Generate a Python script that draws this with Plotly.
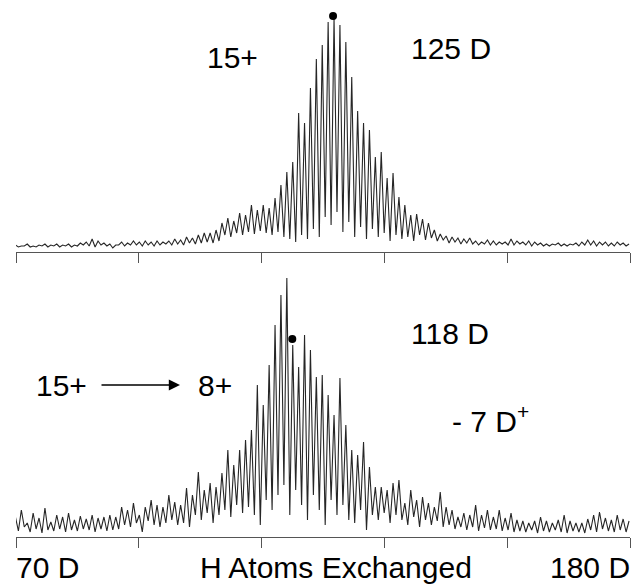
import plotly.graph_objects as go

# ---------------- data ----------------
# x axis: 70 D ... 180 D, ticks every 22 D
tick_vals = [70, 92, 114, 136, 158, 180]
left_label = "70 D"
right_label = "180 D"
axis_title = "H Atoms Exchanged"

# spectrum sampling grid (peak positions, D units)
first_peak = 69.9
peak_step = 1.057

# top spectrum (15+): peak apex heights and the troughs between them
top_peaks = [2, 1, 3, 1, 2, 3, 2, 3, 2, 3, 2, 4, 5, 8, 6,
             4, 3, 2, 5, 4, 6, 5, 6, 5, 6, 5, 6, 8, 7, 10, 9, 12, 14, 14, 17,
             24, 29, 26, 34, 32, 42, 37, 42, 39, 49, 62, 75, 85,
             134, 124, 159, 188, 202, 225, 229, 222, 205, 170, 136, 124, 117,
             90, 95, 69, 74, 50, 42, 32, 33, 28, 24, 17, 13,
             11, 10, 9, 8, 9, 6, 5, 7, 6, 5, 5, 8, 6, 5, 6, 5, 4, 3, 3, 4, 3, 3,
             4, 5, 7, 6, 5, 5, 4, 5, 4, 3]
top_troughs = [0, 1, 0, 0, 1, 0, 1, 0, 1, 0, 1, 2, 1,
               0,
               2, 1, -1, 2, 1, 2, 2, 1, 2, 1, 2, 3, 2,
               3, 2, 4, 3, 4, 5, 4, 6,
               12, 10, 14, 12, 15, 13, 16, 14, 12, 15, 10, 8,
               5, 12, 8, 18, 10, 30, 22, 35, 15, 25, 10, 20, 8, 18,
               10, 14, 6, 12, 8, 10, 6, 12, 7, 9, 6, 7,
               4, 5, 3, 4, 3, 2, 3, 2, 2, 3, 2, 2, 3, 2, 1, 2, 1, 1, 2, 1, 1, 2,
               1, 2, 2, 1, 2, 1, 1, 2, 1]

# bottom spectrum (15+ -> 8+)
bot_peaks = [18, 25, 12, 22, 17, 27, 13, 20, 18, 22, 15, 19, 16, 20, 17, 18, 20, 18,
             28, 25, 32, 20, 28, 35, 30, 28, 40, 33, 30, 47, 40, 63, 45, 52, 48, 62,
             85, 70, 85, 95, 105, 150, 130, 170, 210, 240, 257,
             190, 168, 200, 185, 158, 160, 140, 120, 157, 110, 85, 80, 93, 68,
             48, 48, 45, 52, 55, 32, 45, 35, 38, 32, 28, 43,
             28, 25, 18, 22, 20, 30, 20, 25, 18, 25, 17, 22, 15, 14, 12, 14, 18,
             14, 12, 15, 20, 14, 12, 12, 16, 20, 23, 17, 15, 20, 16, 14]
bot_troughs = [4, 8, 3, 6, 2, 5, 4, 6, 3, 5, 4, 6, 5, 3, 6, 4, 5, 6,
               10, 8, 12, 3, 14, 10, 8, 12, 15, 10, 12, 8, 20,
               15, 22, 12, 20, 25, 18, 30, 22, 28, 20,
               10, 35, 25, 40, 50, 20, 45, 30, 15, 40, 25, 10, 35, 20, 30, 15,
               12, 25, 5, 20, 15, 22, 12, 20, 15, 10, 18, 8, 15, 10, 14, 8,
               10, 6, 8, 5, 8, 4, 7, 5, 6, 4, 5, 3, 4, 3, 5, 2, 4, 3, 5, 3, 2,
               4, 3, 2, 5, 3, 6, 4, 3, 5, 3]

# markers (most abundant peak), D units / intensity
top_dot = (126.8, 231)
bot_dot = (119.5, 196)

top_labels = ["15+", "125 D"]
bot_labels = ["15+", "8+", "118 D", "- 7 D<sup>+</sup>"]

# ---------------- build ----------------
W, H = 641, 584
FONT = "Liberation Sans, Arial, sans-serif"
LINE = "#262626"


def interleave(peaks, troughs):
    xs, ys = [], []
    for k, p in enumerate(peaks):
        xs.append(first_peak + k * peak_step)
        ys.append(p)
        if k < len(troughs):
            xs.append(first_peak + (k + 0.5) * peak_step)
            ys.append(troughs[k])
    return xs, ys


tx, ty = interleave(top_peaks, top_troughs)
bx, by = interleave(bot_peaks, bot_troughs)

fig = go.Figure()
fig.add_trace(go.Scatter(x=tx, y=ty, mode="lines", line=dict(color=LINE, width=1.1),
                         xaxis="x", yaxis="y", hoverinfo="skip"))
fig.add_trace(go.Scatter(x=bx, y=by, mode="lines", line=dict(color=LINE, width=1.1),
                         xaxis="x2", yaxis="y2", hoverinfo="skip"))
fig.add_trace(go.Scatter(x=[top_dot[0]], y=[top_dot[1]], mode="markers",
                         marker=dict(color="black", size=8, symbol="circle"),
                         xaxis="x", yaxis="y", hoverinfo="skip"))
fig.add_trace(go.Scatter(x=[bot_dot[0]], y=[bot_dot[1]], mode="markers",
                         marker=dict(color="black", size=8, symbol="circle"),
                         xaxis="x2", yaxis="y2", hoverinfo="skip"))


def px(x):
    return x / W


def py(y):
    return 1 - y / H


xdom = [px(16), px(630)]
xcommon = dict(domain=xdom, range=[70, 180], showline=True, linecolor="#555",
               linewidth=1, ticks="outside", ticklen=10, tickwidth=1,
               tickcolor="#555", tickvals=tick_vals, showticklabels=False,
               showgrid=False, zeroline=False, fixedrange=True)

fig.update_layout(
    width=W, height=H, margin=dict(l=0, r=0, t=0, b=0),
    paper_bgcolor="white", plot_bgcolor="white", showlegend=False,
    xaxis=dict(anchor="y", **xcommon),
    yaxis=dict(domain=[py(252), py(8)], range=[-5, 239], visible=False,
               fixedrange=True),
    xaxis2=dict(anchor="y2", **xcommon),
    yaxis2=dict(domain=[py(537), py(268)], range=[-2, 267], visible=False,
                fixedrange=True),
    font=dict(family=FONT, color="black", size=30),
)

ann = []


def text(t, x, y, size=30, xanchor="center"):
    ann.append(dict(text=t, x=px(x), y=py(y), xref="paper", yref="paper",
                    showarrow=False, xanchor=xanchor, yanchor="middle",
                    font=dict(size=size, family=FONT, color="black")))


text(top_labels[0], 232, 57)
text(top_labels[1], 451, 48)
text(bot_labels[0], 61, 385)
text(bot_labels[1], 215, 385)
text(bot_labels[2], 450, 333)
text(bot_labels[3], 490, 419)
text(left_label, 14, 567, xanchor="left")
text(axis_title, 336, 567)
text(right_label, 632, 567, xanchor="right")

# arrow 15+ -> 8+
ann.append(dict(x=px(180), y=py(385), xref="paper", yref="paper", text="",
                showarrow=True, ax=-80, ay=0, axref="pixel", ayref="pixel",
                arrowhead=2, arrowsize=1.4, arrowwidth=1.6, arrowcolor="black",
                standoff=0, font=dict(size=12)))

fig.update_layout(annotations=ann)
fig.write_html("out.html",
               config={"displayModeBar": False, "staticPlot": True},
               post_script="document.body.style.margin='0';")
